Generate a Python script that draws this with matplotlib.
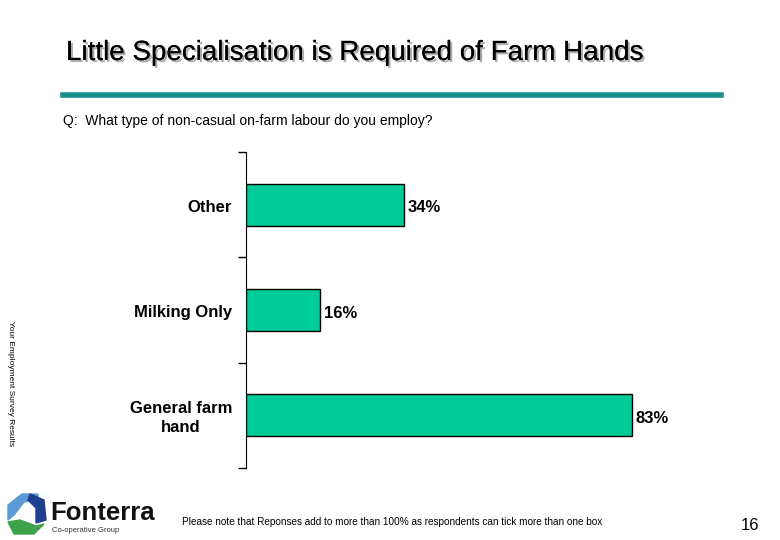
import matplotlib.pyplot as plt
import matplotlib.patheffects as pe
from matplotlib.patches import Polygon

# Data
categories = ["General farm\nhand", "Milking Only", "Other"]
values = [83, 16, 34]

fig = plt.figure(figsize=(7.8, 5.4), dpi=100)

# Axes placed to match the slide: spine at x=246, y 152..468
ax = fig.add_axes([246 / 780, 1 - 468 / 540, (711 - 246) / 780, (468 - 152) / 540])
ax.barh(range(len(categories)), values, height=0.4, color="#00CC99",
        edgecolor="black", linewidth=1)
ax.set_xlim(0, 100)
ax.set_ylim(-0.5, len(categories) - 0.5)
ax.set_yticks([-0.5, 0.5, 1.5, 2.5])
ax.set_yticklabels([])
ax.tick_params(axis="y", direction="out", length=6, width=1)
ax.set_xticks([])
for s in ["top", "right", "bottom"]:
    ax.spines[s].set_visible(False)
for i, (c, v) in enumerate(zip(categories, values)):
    ax.text(-3, i - 0.025, c, ha="right", va="center", multialignment="center",
            fontsize=12, fontweight="bold", family="Liberation Sans",
            linespacing=1.4)
    ax.text(v + 0.7, i - 0.03, f"{v}%", ha="left", va="center", fontsize=12,
            fontweight="bold", family="Liberation Sans")

# Title with shadow
fig.text(66 / 780, 1 - 53 / 540, "Little Specialisation is Required of Farm Hands",
         fontsize=20, family="Liberation Sans", va="center", ha="left",
         path_effects=[pe.withSimplePatchShadow(offset=(1.5, -1.5), shadow_rgbFace="#999999", alpha=0.8),
                       pe.Normal()])
# Teal rule
fig.add_artist(plt.Line2D([63 / 780, 721 / 780], [1 - 95 / 540] * 2, color="#1A8E8E",
                          linewidth=4, transform=fig.transFigure))

fig.text(63 / 780, 1 - 121 / 540, "Q:  What type of non-casual on-farm labour do you employ?",
         fontsize=10, family="Liberation Sans", va="center", ha="left")

fig.text(10 / 780, 1 - 384 / 540, "Your Employment Survey Results", fontsize=6,
         rotation=270, va="center", ha="center", family="Liberation Sans")

fig.text(392 / 780, 1 - 522 / 540,
         "Please note that Reponses add to more than 100% as respondents can tick more than one box",
         fontsize=7.2, family="Liberation Sans", va="center", ha="center")

fig.text(750 / 780, 1 - 525 / 540, "16", fontsize=12, family="Liberation Sans",
         va="center", ha="center")

# Simple logo
logo = fig.add_axes([0, 0, 1, 1], facecolor="none")
logo.set_xlim(0, 780)
logo.set_ylim(540, 0)
logo.axis("off")
logo.add_patch(Polygon([[8, 505], [22, 494], [38, 494], [38, 500], [24, 502], [14, 515], [8, 520]],
                       color="#5B9BD5"))
logo.add_patch(Polygon([[30, 494], [44, 500], [46, 520], [36, 523], [36, 508], [28, 500]],
                       color="#1F3F8F"))
logo.add_patch(Polygon([[8, 522], [20, 520], [36, 526], [44, 524], [34, 534], [14, 534]],
                       color="#3FA34D"))
logo.text(50, 513, "Fonterra", fontsize=18.5, fontweight="bold", family="Liberation Sans",
          va="center", ha="left", color="#111111")
logo.text(52, 530, "Co-operative Group", fontsize=5.5, family="Liberation Sans",
          va="center", ha="left", color="#333333")

fig.savefig("out.png", dpi=100)
